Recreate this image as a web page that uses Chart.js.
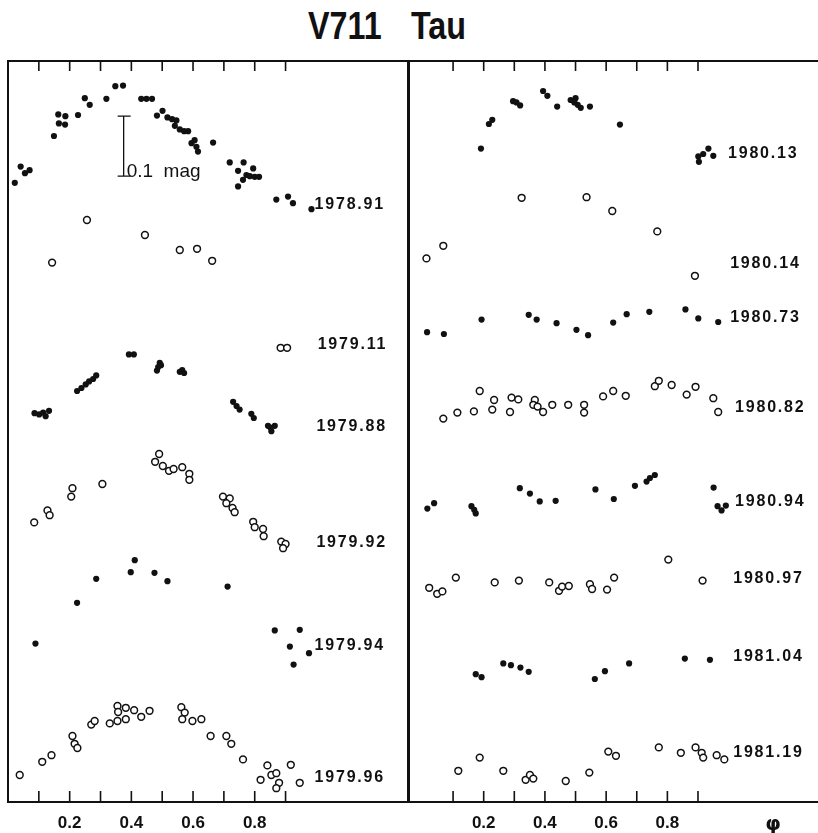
<!DOCTYPE html>
<html>
<head>
<meta charset="utf-8">
<script src="https://cdn.jsdelivr.net/npm/chart.js@4.4.1/dist/chart.umd.min.js"></script>
<style>
  body { margin: 0; background: #fff; }
  #wrap { position: relative; width: 818px; height: 833px; overflow: hidden; }
  #title {
    position: absolute; left: 308px; top: 5px; line-height: 38px; white-space: nowrap;
    font: bold 38px "Liberation Sans", Arial, sans-serif;
    word-spacing: 24px; color: #111;
    transform: scaleX(0.85); transform-origin: 0 0;
  }
  canvas { position: absolute; top: 0; }
</style>
</head>
<body>
<div id="wrap">
  <div id="title">V711 Tau</div>
  <canvas id="left" width="409" height="833" style="left:0"></canvas>
  <canvas id="right" width="409" height="833" style="left:409px"></canvas>
</div>
<script>
// phase ticks
const tickMarks = [0.1, 0.2, 0.3, 0.4, 0.5, 0.6, 0.7, 0.8, 0.9];
const tickLabels = [0.2, 0.4, 0.6, 0.8];
const phiPos = 1.145;

// left panel: phase / relative magnitude (brighter = up)
const phases1978_91 = [0.022,0.041,0.055,0.070,0.149,0.163,0.165,0.186,0.185,0.227,0.249,0.265,0.319,0.348,0.373,0.432,0.449,0.467,0.483,0.501,0.517,0.532,0.546,0.541,0.557,0.571,0.584,0.595,0.605,0.611,0.616,0.665,0.719,0.746,0.764,0.773,0.762,0.746,0.795,0.800,0.814,0.784,0.870,0.908,0.924,0.984];
const mags1978_91   = [0.203,0.176,0.187,0.182,0.125,0.089,0.104,0.092,0.106,0.090,0.062,0.073,0.063,0.042,0.041,0.063,0.063,0.063,0.091,0.083,0.094,0.097,0.099,0.108,0.114,0.117,0.117,0.137,0.132,0.143,0.151,0.136,0.169,0.183,0.169,0.190,0.198,0.209,0.179,0.193,0.193,0.192,0.231,0.226,0.237,0.247];

const phases1979_11 = [0.143,0.256,0.444,0.557,0.613,0.662,0.884,0.905];
const mags1979_11   = [0.336,0.265,0.290,0.315,0.313,0.333,0.478,0.478];

const phases1979_88 = [0.392,0.408,0.483,0.487,0.492,0.496,0.557,0.565,0.571,0.224,0.238,0.252,0.263,0.276,0.286,0.086,0.101,0.114,0.133,0.122,0.730,0.741,0.751,0.789,0.797,0.843,0.865,0.854,0.851];
const mags1979_88   = [0.489,0.489,0.516,0.510,0.503,0.507,0.518,0.515,0.520,0.550,0.545,0.539,0.534,0.530,0.524,0.587,0.589,0.586,0.583,0.592,0.568,0.575,0.581,0.588,0.595,0.608,0.608,0.617,0.611];

const phases1979_92 = [0.085,0.128,0.135,0.205,0.209,0.306,0.477,0.490,0.502,0.522,0.537,0.565,0.588,0.588,0.697,0.719,0.708,0.728,0.735,0.795,0.800,0.827,0.829,0.886,0.900,0.892];
const mags1979_92   = [0.769,0.749,0.757,0.726,0.712,0.705,0.668,0.655,0.675,0.683,0.680,0.677,0.688,0.698,0.726,0.729,0.737,0.745,0.752,0.768,0.777,0.780,0.792,0.801,0.805,0.812];

const phases1979_94 = [0.089,0.224,0.286,0.398,0.411,0.475,0.517,0.712,0.865,0.946,0.914,0.976,0.926];
const mags1979_94   = [0.971,0.903,0.863,0.852,0.832,0.853,0.867,0.876,0.949,0.948,0.976,0.987,1.006];

const phases1979_96 = [0.038,0.111,0.141,0.209,0.216,0.225,0.270,0.281,0.330,0.355,0.357,0.355,0.382,0.382,0.409,0.432,0.459,0.562,0.573,0.565,0.598,0.627,0.657,0.708,0.724,0.762,0.819,0.841,0.854,0.870,0.879,0.870,0.917,0.946];
const mags1979_96   = [1.190,1.168,1.157,1.125,1.138,1.145,1.106,1.100,1.104,1.075,1.085,1.100,1.078,1.097,1.082,1.093,1.083,1.077,1.086,1.097,1.100,1.097,1.125,1.125,1.138,1.164,1.198,1.174,1.190,1.187,1.203,1.212,1.173,1.203];

// right panel
const phases1980_13 = [0.191,0.217,0.228,0.296,0.307,0.319,0.394,0.408,0.440,0.484,0.500,0.496,0.507,0.517,0.547,0.645,0.901,0.903,0.917,0.934,0.950];
const mags1980_13   = [0.146,0.105,0.098,0.067,0.069,0.074,0.050,0.058,0.076,0.065,0.062,0.069,0.073,0.078,0.076,0.106,0.159,0.168,0.155,0.146,0.158];

const phases1980_14 = [0.013,0.068,0.324,0.536,0.620,0.767,0.890];
const mags1980_14   = [0.329,0.308,0.228,0.227,0.250,0.284,0.358];

const phases1980_73 = [0.015,0.070,0.193,0.347,0.373,0.438,0.503,0.541,0.623,0.667,0.741,0.859,0.901,0.966];
const mags1980_73   = [0.452,0.455,0.431,0.423,0.431,0.437,0.448,0.457,0.436,0.422,0.418,0.414,0.429,0.435];

const phases1980_82 = [0.068,0.114,0.168,0.187,0.228,0.234,0.286,0.291,0.313,0.367,0.362,0.376,0.394,0.424,0.476,0.528,0.528,0.590,0.623,0.664,0.759,0.772,0.814,0.863,0.892,0.950,0.966];
const mags1980_82   = [0.596,0.586,0.584,0.550,0.581,0.565,0.585,0.561,0.564,0.565,0.573,0.576,0.585,0.573,0.573,0.573,0.586,0.559,0.550,0.558,0.542,0.533,0.540,0.556,0.543,0.562,0.585];

const phases1980_94 = [0.016,0.038,0.160,0.169,0.174,0.318,0.351,0.383,0.435,0.565,0.625,0.694,0.732,0.743,0.759,0.951,0.964,0.977,0.991];
const mags1980_94   = [0.746,0.737,0.742,0.748,0.754,0.712,0.721,0.734,0.733,0.714,0.730,0.708,0.701,0.695,0.690,0.711,0.742,0.749,0.741];

const phases1980_97 = [0.022,0.048,0.065,0.109,0.236,0.315,0.414,0.446,0.456,0.478,0.547,0.554,0.603,0.626,0.803,0.915];
const mags1980_97   = [0.878,0.888,0.884,0.861,0.869,0.866,0.869,0.883,0.876,0.875,0.872,0.880,0.881,0.861,0.831,0.866];

const phases1981_04 = [0.174,0.193,0.264,0.289,0.320,0.347,0.563,0.596,0.675,0.857,0.939];
const mags1981_04   = [1.022,1.027,1.004,1.007,1.011,1.018,1.030,1.017,1.004,0.996,0.998];

const phases1981_19 = [0.117,0.187,0.264,0.337,0.351,0.362,0.468,0.545,0.607,0.632,0.772,0.844,0.892,0.912,0.917,0.961,0.986];
const mags1981_19   = [1.183,1.161,1.183,1.198,1.190,1.196,1.200,1.186,1.151,1.158,1.144,1.153,1.144,1.153,1.161,1.157,1.164];

const leftSeries = [
  { name: '1978.91', phase: phases1978_91, mag: mags1978_91, filled: true },
  { name: '1979.11', phase: phases1979_11, mag: mags1979_11, filled: false },
  { name: '1979.88', phase: phases1979_88, mag: mags1979_88, filled: true },
  { name: '1979.92', phase: phases1979_92, mag: mags1979_92, filled: false },
  { name: '1979.94', phase: phases1979_94, mag: mags1979_94, filled: true },
  { name: '1979.96', phase: phases1979_96, mag: mags1979_96, filled: false },
];
const rightSeries = [
  { name: '1980.13', phase: phases1980_13, mag: mags1980_13, filled: true },
  { name: '1980.14', phase: phases1980_14, mag: mags1980_14, filled: false },
  { name: '1980.73', phase: phases1980_73, mag: mags1980_73, filled: true },
  { name: '1980.82', phase: phases1980_82, mag: mags1980_82, filled: false },
  { name: '1980.94', phase: phases1980_94, mag: mags1980_94, filled: true },
  { name: '1980.97', phase: phases1980_97, mag: mags1980_97, filled: false },
  { name: '1981.04', phase: phases1981_04, mag: mags1981_04, filled: true },
  { name: '1981.19', phase: phases1981_19, mag: mags1981_19, filled: false },
];

// where the epoch labels sit (phase, mag)
const leftLabelPos = [[0.994,0.240],[1.004,0.473],[1.000,0.610],[1.000,0.802],[0.994,0.975],[0.994,1.195]];
const rightLabelPos = [[0.998,0.155],[1.005,0.337],[1.005,0.428],[1.021,0.577],[1.021,0.735],[1.015,0.862],[1.015,0.993],[1.015,1.153]];

const BLACK = '#111';
const FONT = '"Liberation Sans", Arial, sans-serif';

function makeDatasets(list) {
  return list.map(s => ({
    label: s.name,
    data: s.phase.map((p, i) => ({ x: p, y: s.mag[i] })),
    showLine: false,
    pointRadius: s.filled ? 3.1 : 3.4,
    pointBorderWidth: s.filled ? 0 : 1.5,
    pointBackgroundColor: s.filled ? BLACK : '#fff',
    pointBorderColor: BLACK,
  }));
}

// frame, inward ticks, epoch labels, mag bar
const framePlugin = {
  id: 'frame',
  afterDatasetsDraw(chart, args, opts) {
    const { ctx, chartArea: a, scales: { x, y } } = chart;
    ctx.save();
    ctx.strokeStyle = BLACK;
    ctx.lineWidth = 2;
    ctx.beginPath();
    ctx.moveTo(a.left, a.top); ctx.lineTo(a.right, a.top);
    ctx.moveTo(a.left, a.bottom); ctx.lineTo(a.right, a.bottom);
    ctx.moveTo(a.left, a.top - 1); ctx.lineTo(a.left, a.bottom + 1);
    if (opts.rightEdge) { ctx.moveTo(a.right, a.top - 1); ctx.lineTo(a.right, a.bottom + 1); }
    ctx.stroke();

    ctx.lineWidth = 1.6;
    ctx.beginPath();
    tickMarks.forEach(v => {
      const px = x.getPixelForValue(v);
      ctx.moveTo(px, a.top); ctx.lineTo(px, a.top + 10);
      ctx.moveTo(px, a.bottom); ctx.lineTo(px, a.bottom - 11);
    });
    ctx.stroke();

    ctx.fillStyle = BLACK;
    ctx.font = 'bold 16px ' + FONT;
    ctx.letterSpacing = '1.8px';
    ctx.textAlign = 'left';
    ctx.textBaseline = 'middle';
    opts.series.forEach((s, i) => {
      const [p, m] = opts.labelPos[i];
      ctx.fillText(s.name, x.getPixelForValue(p), y.getPixelForValue(m));
    });
    ctx.letterSpacing = '0px';

    if (opts.magBar) {
      const bx = x.getPixelForValue(opts.magBar.phase);
      const y1 = y.getPixelForValue(opts.magBar.top);
      const y2 = y.getPixelForValue(opts.magBar.top + 0.1);
      ctx.lineWidth = 1.3;
      ctx.beginPath();
      ctx.moveTo(bx, y1); ctx.lineTo(bx, y2);
      ctx.moveTo(bx - 6, y1); ctx.lineTo(bx + 7, y1);
      ctx.moveTo(bx - 6, y2); ctx.lineTo(bx + 7, y2);
      ctx.stroke();
      ctx.font = '19px ' + FONT;
      ctx.textBaseline = 'alphabetic';
      ctx.fillText('0.1  mag', bx + 3, y2 + 1);
    }
    ctx.restore();
  }
};

function makeChart(id, series, labelPos, xmin, xmax, padding, extra) {
  const tickList = tickLabels.concat(extra.phi ? [phiPos] : []);
  return new Chart(document.getElementById(id), {
    type: 'scatter',
    data: { datasets: makeDatasets(series) },
    options: {
      responsive: false,
      animation: false,
      layout: { padding: padding, autoPadding: false },
      plugins: {
        legend: { display: false },
        tooltip: { enabled: false },
        frame: { series: series, labelPos: labelPos, rightEdge: extra.rightEdge, magBar: extra.magBar },
      },
      scales: {
        x: {
          type: 'linear',
          min: xmin,
          max: xmax,
          grid: { display: false },
          border: { display: false },
          afterFit: s => { s.height = 31; },
          afterBuildTicks: s => { s.ticks = tickList.map(v => ({ value: v })); },
          ticks: {
            autoSkip: false,
            maxRotation: 0,
            padding: 3,
            color: BLACK,
            callback: v => (v === phiPos ? 'φ' : v.toFixed(1)),
            font: c => (c.tick && c.tick.value === phiPos)
              ? { family: '"DejaVu Sans", sans-serif', weight: 'bold', size: 20 }
              : { family: FONT, weight: 'bold', size: 17 },
          },
        },
        y: { min: 0, max: 1.235, reverse: true, display: false },
      },
    },
    plugins: [framePlugin],
  });
}

makeChart('left', leftSeries, leftLabelPos, 0, 1.297,
  { left: 8, right: 1, top: 61, bottom: 0 },
  { rightEdge: true, magBar: { phase: 0.375, top: 0.092 } });

makeChart('right', rightSeries, rightLabelPos, -0.044, 1.292,
  { left: 0, right: 0, top: 61, bottom: 0 },
  { phi: true });
</script>
</body>
</html>
